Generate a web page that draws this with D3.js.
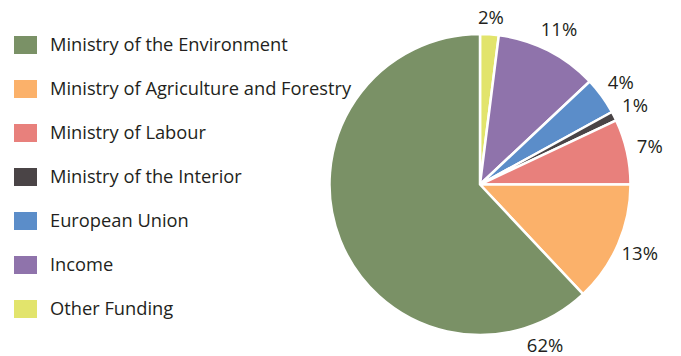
<!DOCTYPE html>
<html>
<head>
<meta charset="utf-8">
<script src="https://cdn.jsdelivr.net/npm/d3@7"></script>
<style>
  body { margin: 0; background: #fff; }
  text { font-family: "Open Sans", sans-serif; fill: #231f20; }
</style>
</head>
<body>
<div id="chart"></div>
<script>
var svgWidth = 681;
var svgHeight = 356;

// slices in clockwise order starting at 12 o'clock
var categories = ["Other Funding", "Income", "European Union", "Ministry of the Interior",
    "Ministry of Labour", "Ministry of Agriculture and Forestry", "Ministry of the Environment"];
var shares = [2, 11, 4, 1, 7, 13, 62];
var colors = ["#e2e46c", "#8f73ab", "#5b8dc9", "#4a4446", "#e8807c", "#fbb16a", "#7a9166"];

// legend reads top to bottom
var legendOrder = ["Ministry of the Environment", "Ministry of Agriculture and Forestry",
    "Ministry of Labour", "Ministry of the Interior", "European Union", "Income", "Other Funding"];

var cx = 480, cy = 184.5, radius = 150.5;

var svg = d3.select("#chart")
    .append("svg")
    .attr("width", svgWidth)
    .attr("height", svgHeight);

var color = d3.scaleOrdinal().domain(categories).range(colors);

var data = categories.map(function(c, i) {
    return { name: c, value: shares[i] };
});

var pie = d3.pie()
    .sort(null)
    .value(d => d.value);

var arc = d3.arc().innerRadius(0).outerRadius(radius);

var pieGroup = svg.append("g")
    .attr("transform", `translate(${cx}, ${cy})`);

var arcs = pie(data);

pieGroup.selectAll("path")
    .data(arcs)
    .enter().append("path")
    .attr("d", arc)
    .attr("fill", d => color(d.data.name))
    .attr("stroke", "#fff")
    .attr("stroke-width", 2.5)
    .attr("stroke-linejoin", "round");

// percent labels, big slice label sits under the pie
var labelR = 174;

pieGroup.selectAll("text.pct")
    .data(arcs)
    .enter().append("text")
    .attr("class", "pct")
    .attr("transform", function(d) {
        var a = (d.startAngle + d.endAngle) / 2;
        if (d.data.value > 50) a = Math.PI * 0.878;
        var x = Math.sin(a) * labelR;
        var y = Math.max(-Math.cos(a) * labelR, 18 - cy); // keep top label inside
        return `translate(${x}, ${y})`;
    })
    .attr("text-anchor", "middle")
    .attr("dy", "0.35em")
    .attr("font-size", "18.5px")
    .text(d => d.data.value + "%");

// legend
var legend = svg.append("g")
    .attr("transform", "translate(14, 45)");

var rows = legend.selectAll("g")
    .data(legendOrder)
    .enter().append("g")
    .attr("transform", (d, i) => `translate(0, ${i * 44})`);

rows.append("rect")
    .attr("x", 0)
    .attr("y", -9)
    .attr("width", 23)
    .attr("height", 18)
    .attr("fill", d => color(d));

rows.append("text")
    .attr("x", 36)
    .attr("y", 0)
    .attr("dy", "0.35em")
    .attr("font-size", "18.3px")
    .text(d => d);
</script>
</body>
</html>
